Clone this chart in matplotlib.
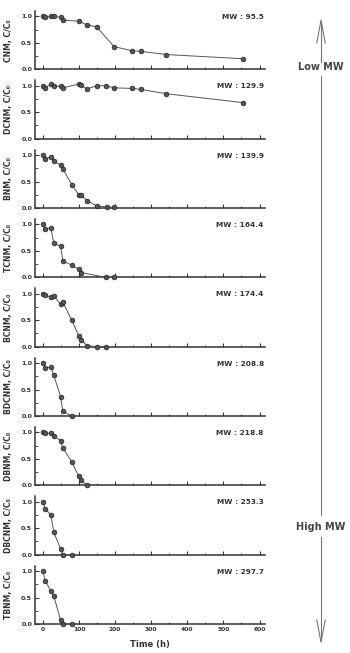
import matplotlib
matplotlib.use('Agg')
import matplotlib.pyplot as plt
from matplotlib.ticker import MultipleLocator
from matplotlib.lines import Line2D

names = ['CNM', 'DCNM', 'BNM', 'TCNM', 'BCNM', 'BDCNM', 'DBNM', 'DBCNM', 'TBNM']
mw = ['95.5', '129.9', '139.9', '164.4', '174.4', '208.8', '218.8', '253.3', '297.7']

t_cnm = [0, 5, 22, 30, 49, 55, 100, 122, 149, 197, 247, 271, 342, 555]
c_cnm = [1.0, 0.98, 1.0, 1.0, 0.98, 0.93, 0.91, 0.84, 0.80, 0.43, 0.35, 0.34, 0.28, 0.20]

t_dcnm = [0, 6, 22, 30, 49, 55, 99, 105, 122, 149, 174, 197, 247, 271, 341, 555]
c_dcnm = [1.0, 0.96, 1.03, 0.99, 0.99, 0.96, 1.03, 1.01, 0.94, 1.0, 1.0, 0.96, 0.95, 0.93, 0.85, 0.68]

t_bnm = [0, 6, 22, 30, 49, 55, 80, 99, 105, 122, 149, 177, 197]
c_bnm = [1.0, 0.93, 0.96, 0.89, 0.81, 0.74, 0.44, 0.25, 0.25, 0.14, 0.04, 0.02, 0.01]

t_tcnm = [0, 6, 22, 30, 49, 55, 80, 99, 105, 175, 197]
c_tcnm = [1.0, 0.91, 0.94, 0.64, 0.59, 0.31, 0.23, 0.15, 0.09, 0.0, 0.0]

t_bcnm = [0, 6, 22, 30, 49, 55, 80, 99, 105, 122, 149, 175]
c_bcnm = [1.0, 0.98, 0.93, 0.96, 0.80, 0.84, 0.50, 0.21, 0.13, 0.02, 0.0, 0.0]

t_bdcnm = [0, 6, 22, 30, 49, 55, 80]
c_bdcnm = [1.0, 0.91, 0.92, 0.77, 0.36, 0.09, 0.0]

t_dbnm = [0, 6, 22, 30, 49, 55, 80, 99, 105, 122]
c_dbnm = [1.0, 0.99, 0.98, 0.94, 0.84, 0.71, 0.44, 0.17, 0.10, 0.0]

t_dbcnm = [0, 6, 22, 30, 49, 55, 80]
c_dbcnm = [1.0, 0.87, 0.75, 0.42, 0.11, 0.0, 0.0]

t_tbnm = [0, 6, 22, 30, 49, 55, 80]
c_tbnm = [1.0, 0.82, 0.62, 0.53, 0.07, 0.0, 0.0]

times = [t_cnm, t_dcnm, t_bnm, t_tcnm, t_bcnm, t_bdcnm, t_dbnm, t_dbcnm, t_tbnm]
concs = [c_cnm, c_dcnm, c_bnm, c_tcnm, c_bcnm, c_bdcnm, c_dbnm, c_dbcnm, c_tbnm]

dark = '#333333'

fig, axes = plt.subplots(9, 1, figsize=(3.5, 6.53), dpi=100, sharex=True)
fig.subplots_adjust(left=0.1, right=0.757, top=0.983, bottom=0.0444, hspace=0.19)

for i, ax in enumerate(axes):
    ax.plot(times[i], concs[i], '-o', color='#555555', lw=0.7,
            markersize=3.4, markerfacecolor='#555555', markeredgecolor='#222222',
            markeredgewidth=0.5, clip_on=False, zorder=3)
    ax.set_xlim(-22, 615)
    ax.set_ylim(0, 1.1)
    ax.set_yticks([0.0, 0.5, 1.0])
    ax.set_yticklabels(['0.0', '0.5', '1.0'], fontsize=4.5, fontweight='bold', color=dark)
    ax.yaxis.set_minor_locator(MultipleLocator(0.25))
    ax.xaxis.set_major_locator(MultipleLocator(100))
    ax.xaxis.set_minor_locator(MultipleLocator(50))
    ax.tick_params(axis='both', which='major', direction='in', length=3, width=0.8, colors=dark, pad=2)
    ax.tick_params(axis='both', which='minor', direction='in', length=1.8, width=0.6, colors=dark)
    for s in ['top', 'right']:
        ax.spines[s].set_visible(False)
    for s in ['left', 'bottom']:
        ax.spines[s].set_linewidth(1.1)
        ax.spines[s].set_color(dark)
    ax.set_ylabel(names[i] + ', C/C\u2080', fontsize=5.5, fontweight='bold', color=dark, labelpad=6)
    ax.text(0.995, 0.9, 'MW : ' + mw[i], transform=ax.transAxes, ha='right', va='center',
            fontsize=5.3, fontweight='bold', color=dark)

axes[-1].set_xticks(range(0, 601, 100))
axes[-1].set_xticklabels([str(v) for v in range(0, 601, 100)], fontsize=4.3, fontweight='bold', color=dark)
axes[-1].set_xlabel('Time (h)', fontsize=6, fontweight='bold', color=dark, labelpad=6)

# right-hand MW arrow
ax_x = 321 / 350
gray = '#777777'
def fy(py):
    return 1 - py / 653

fig.add_artist(Line2D([ax_x, ax_x], [fy(21), fy(62)], color=gray, lw=0.8, transform=fig.transFigure))
fig.add_artist(Line2D([ax_x, ax_x], [fy(76), fy(515)], color=gray, lw=0.8, transform=fig.transFigure))
fig.add_artist(Line2D([ax_x, ax_x], [fy(537), fy(641)], color=gray, lw=0.8, transform=fig.transFigure))
fig.add_artist(Line2D([ax_x - 0.012, ax_x, ax_x + 0.012], [fy(43), fy(20), fy(43)],
                      color=gray, lw=0.8, transform=fig.transFigure))
fig.add_artist(Line2D([ax_x - 0.012, ax_x, ax_x + 0.012], [fy(620), fy(642), fy(620)],
                      color=gray, lw=0.8, transform=fig.transFigure))
fig.text(ax_x, fy(67), 'Low MW', ha='center', va='center', fontsize=7, fontweight='bold', color='#444444')
fig.text(ax_x, fy(527), 'High MW', ha='center', va='center', fontsize=7, fontweight='bold', color='#444444')

fig.savefig('out.png', dpi=100)
